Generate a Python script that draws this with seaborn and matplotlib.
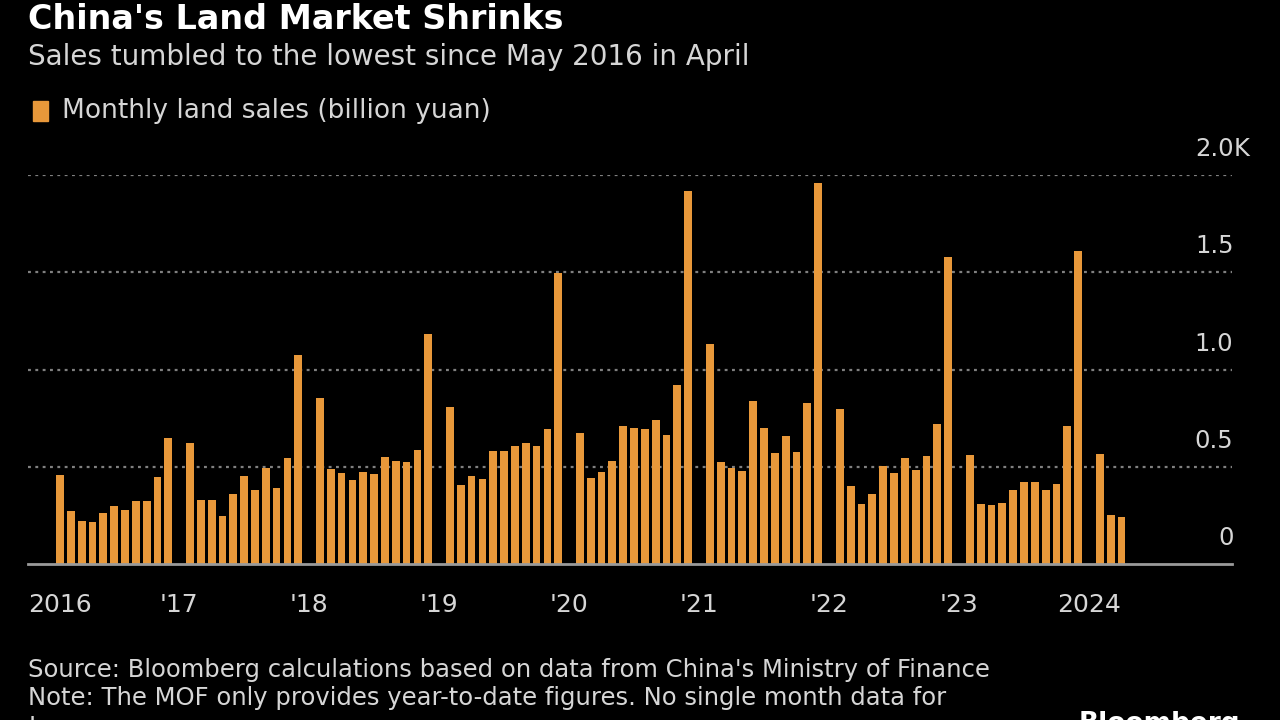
import pandas as pd
import seaborn as sns
import matplotlib.pyplot as plt
import matplotlib.transforms as mtransforms
import numpy as np

# Monthly land sales (billion yuan).
# The MOF gives no single-month figure for January, so January is NaN.
years = [2016, 2017, 2018, 2019, 2020, 2021, 2022, 2023, 2024]
sales_2016 = [457, 274, 222, 214, 262, 296, 276, 326, 326, 446, 650]          # Feb-Dec
sales_2017 = [np.nan, 624, 328, 328, 248, 360, 455, 379, 495, 392, 545, 1072]
sales_2018 = [np.nan, 854, 486, 466, 431, 471, 464, 550, 529, 524, 586, 1181]
sales_2019 = [np.nan, 809, 404, 455, 435, 583, 583, 607, 622, 607, 692, 1495]
sales_2020 = [np.nan, 676, 440, 474, 528, 707, 700, 695, 738, 664, 921, 1918]
sales_2021 = [np.nan, 1129, 524, 495, 478, 836, 700, 573, 657, 574, 829, 1959]
sales_2022 = [np.nan, 797, 403, 307, 360, 503, 467, 543, 481, 553, 719, 1579]
sales_2023 = [np.nan, 562, 309, 304, 314, 379, 421, 423, 379, 412, 709, 1607]
sales_2024 = [np.nan, 564, 250, 240]                                           # Jan-Apr

year_labels = ['2016', "'17", "'18", "'19", "'20", "'21", "'22", "'23", '2024']
y_ticks = [0, 500, 1000, 1500, 2000]
y_tick_labels = ['0', '0.5', '1.0', '1.5', '2.0']

# Build a tidy frame
all_sales = [sales_2016, sales_2017, sales_2018, sales_2019, sales_2020,
             sales_2021, sales_2022, sales_2023, sales_2024]
rows = []
for yr, vals in zip(years, all_sales):
    first_month = 2 if yr == 2016 else 1
    for i, v in enumerate(vals):
        rows.append({'month': f'{yr}-{first_month + i:02d}', 'sales': v})
df = pd.DataFrame(rows)
order = list(df['month'])

# Style
sns.set_style('dark', {'axes.facecolor': 'black', 'figure.facecolor': 'black'})
plt.rcParams['font.family'] = ['DejaVu Sans']
text_col = '#d6d6d6'
bar_col = '#e8983a'

fig = plt.figure(figsize=(12.8, 7.2), dpi=100, facecolor='black')
ax = fig.add_axes([28 / 1280, 156 / 720, 1204 / 1280, 389 / 720])
ax.set_facecolor('black')

sns.barplot(data=df, x='month', y='sales', order=order, color=bar_col,
            width=0.72, saturation=1, linewidth=0, ax=ax)

ax.set_xlim(-2.95, 108.2)
ax.set_ylim(0, 2000)
ax.set_xlabel('')
ax.set_ylabel('')

# dotted gridlines
for v in y_ticks[1:]:
    ax.axhline(v, color='#808080', linestyle=(0, (1.3, 2.0)), linewidth=1.6, zorder=0)

for s in ['top', 'right', 'left']:
    ax.spines[s].set_visible(False)
ax.spines['bottom'].set_color('#9a9a9a')
ax.spines['bottom'].set_linewidth(2)

# year ticks
tick_pos = [order.index('2016-02')] + [order.index(f'{y}-01') for y in years[1:]]
ax.set_xticks(tick_pos)
ax.set_xticklabels(year_labels, color=text_col, fontsize=18)
ax.tick_params(axis='x', length=8, width=1.5, color='#9a9a9a', pad=13)
ax.set_yticks([])

# y labels sit above the gridlines at the right end
trans = mtransforms.blended_transform_factory(ax.transAxes, ax.transData)
for v, lab in zip(y_ticks, y_tick_labels):
    ax.annotate(lab, xy=(1.0, v), xycoords=trans, xytext=(1, 10),
                textcoords='offset points', ha='right', va='bottom',
                color=text_col, fontsize=17.5, annotation_clip=False)
ax.annotate('K', xy=(1.0, y_ticks[-1]), xycoords=trans, xytext=(1, 10),
            textcoords='offset points', ha='left', va='bottom',
            color=text_col, fontsize=17.5, annotation_clip=False)

# titles and legend
fig.text(28 / 1280, 1 - 29 / 720, "China's Land Market Shrinks", color='white',
         fontsize=24, fontweight='bold', va='baseline')
fig.text(28 / 1280, 1 - 65 / 720, 'Sales tumbled to the lowest since May 2016 in April',
         color=text_col, fontsize=20, va='baseline')
fig.patches.append(plt.Rectangle((33 / 1280, 1 - 121 / 720), 15 / 1280, 20 / 720,
                                 transform=fig.transFigure, color=bar_col))
fig.text(62 / 1280, 1 - 118 / 720, 'Monthly land sales (billion yuan)',
         color=text_col, fontsize=19, va='baseline')

# footer
fig.text(28 / 1280, 1 - 677 / 720,
         "Source: Bloomberg calculations based on data from China's Ministry of Finance",
         color=text_col, fontsize=17.5, va='baseline')
fig.text(28 / 1280, 1 - 705 / 720,
         'Note: The MOF only provides year-to-date figures. No single month data for',
         color=text_col, fontsize=17.5, va='baseline')
fig.text(28 / 1280, 1 - 734 / 720, 'January.', color=text_col, fontsize=17.5, va='baseline')
fig.text(1240 / 1280, 1 - 711 / 720, 'Bloomberg', color='white', fontsize=19,
         fontweight='bold', ha='right', va='top')

fig.savefig('out.png', dpi=100, facecolor='black')
